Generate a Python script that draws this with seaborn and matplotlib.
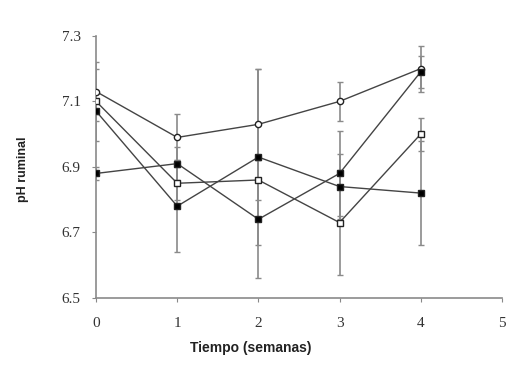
import numpy as np
import pandas as pd
import matplotlib
matplotlib.use('Agg')
import matplotlib.pyplot as plt
import seaborn as sns

# valores
semanas = [0, 1, 2, 3, 4]
ph_a = [7.13, 6.99, 7.03, 7.10, 7.20]   # circulo abierto
ph_b = [7.10, 6.85, 6.86, 6.73, 7.00]   # cuadrado abierto
ph_c = [7.07, 6.78, 6.93, 6.84, 6.82]   # cuadrado negro
ph_d = [6.88, 6.91, 6.74, 6.88, 7.19]   # cuadrado negro
sd_a = [0.07, 0.07, 0.17, 0.06, 0.07]
sd_b = [0.12, 0.05, 0.06, 0.16, 0.05]
sd_c = [0.03, 0.14, 0.27, 0.10, 0.16]
sd_d = [0.02, 0.05, 0.18, 0.13, 0.05]

series = {'A': (ph_a, sd_a), 'B': (ph_b, sd_b), 'C': (ph_c, sd_c), 'D': (ph_d, sd_d)}
rows = []
for name, (vals, sds) in series.items():
    for t, v, s in zip(semanas, vals, sds):
        rows.append({'t': t, 'ph': v, 'sd': s, 'grupo': name})
df = pd.DataFrame(rows)

sns.set_style('ticks')
fig = plt.figure(figsize=(5.31, 3.78), dpi=100)
ax = fig.add_axes([0.181, 0.212, 0.764, 0.693])

# barras de error primero (gris)
for name, g in df.groupby('grupo'):
    ax.errorbar(g['t'], g['ph'], yerr=g['sd'], fmt='none', ecolor='#8a8a8a',
                elinewidth=1.2, capsize=2.5, capthick=1.0, zorder=2)

markers = {'A': 'o', 'B': 's', 'C': 's', 'D': 's'}
fills = {'A': 'white', 'B': 'white', 'C': 'black', 'D': 'black'}
for name, g in df.groupby('grupo'):
    sns.lineplot(data=g, x='t', y='ph', ax=ax, color='#444444', lw=1.0,
                 marker=markers[name], markersize=4.5, markerfacecolor=fills[name],
                 markeredgecolor='#222222', markeredgewidth=1.0, zorder=3)

ax.set_xlim(0, 5)
ax.set_ylim(6.5, 7.3)
ax.set_xticks([0, 1, 2, 3, 4, 5])
ax.set_yticks([6.5, 6.7, 6.9, 7.1, 7.3])
ax.set_yticklabels(['6.5', '6.7', '6.9', '7.1', '7.3'])
for lab in ax.get_xticklabels() + ax.get_yticklabels():
    lab.set_family('Liberation Serif')
    lab.set_fontsize(11)
    lab.set_color('#333333')
ax.tick_params(axis='y', length=3, width=0.8, color='#888888', pad=8)
ax.tick_params(axis='x', length=3, width=0.8, color='#888888', pad=11)
for sp in ['top', 'right']:
    ax.spines[sp].set_visible(False)
for sp in ['left', 'bottom']:
    ax.spines[sp].set_color('#8a8a8a')
    ax.spines[sp].set_linewidth(1.2)
ax.set_xlabel('Tiempo (semanas)', family='Liberation Sans', fontweight='bold',
              fontsize=10, color='#222222')
ax.set_ylabel('pH ruminal', family='Liberation Sans', fontweight='bold',
              fontsize=9, color='#222222')
ax.xaxis.set_label_coords(0.38, -0.165)
ax.yaxis.set_label_coords(-0.165, 0.49)
ax.grid(False)
fig.savefig('out.png', dpi=100)
